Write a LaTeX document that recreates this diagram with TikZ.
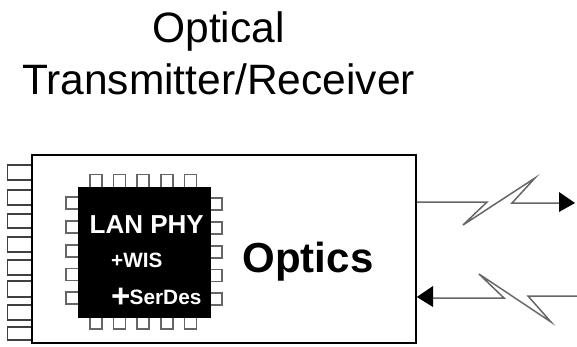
\documentclass[tikz,border=0pt]{standalone}
\usepackage{fontspec}
\setmainfont{Liberation Sans}
\usetikzlibrary{arrows.meta}
\tikzset{
  pin/.style={draw=black!60,line width=1.1pt,fill=white},
  edgepin/.style={draw=black!75,line width=1.4pt,fill=white},
  link/.style={draw=black!60,line width=1.5pt,line join=miter},
  tip/.style={fill=black,draw=none},
  title/.style={font=\fontsize{42.5}{43}\selectfont,text=black,inner sep=0pt,anchor=base},
  chiptext/.style={text=white,inner sep=0pt,anchor=base west}
}
\begin{document}
\begin{tikzpicture}[x=1pt,y=-1pt]
\useasboundingbox (0,0) rectangle (577,346);
\node[title] (t1) at (218.5,42.5) {Optical};
\node[title] (t2) at (218.5,94) {Transmitter/Receiver};
% edge connector pins
\foreach \a/\b in {165/180,190/205,214/228,237/252,260/275,281/297,305/320,327/340}
  \draw[edgepin] (7.5,\a) rectangle (32,\b);
% module
\node[draw=black,line width=1.6pt,fill=white,minimum width=384pt,minimum height=188pt,inner sep=0pt] (box) at (224,249) {};
% chip pins
\foreach \x in {90,113.5,137,161,184.5} {
  \draw[pin] (\x,174.5) rectangle ++(12,14);
  \draw[pin] (\x,317) rectangle ++(12,12);
}
\foreach \y in {197,221,245,268.5,292} {
  \draw[pin] (66,\y) rectangle ++(13,12);
  \draw[pin] (210,\y+1) rectangle ++(12,12);
}
\node[fill=black,draw=none,minimum width=133pt,minimum height=131pt,inner sep=0pt] (chip) at (144.5,252.5) {};
\node[chiptext,font=\fontsize{26}{27}\selectfont\bfseries] (lan) at (89.5,233) {LAN PHY};
\node[chiptext,font=\fontsize{20.7}{21}\selectfont\bfseries] (wis) at (111,267) {+WIS};
\node[chiptext,font=\fontsize{20.8}{21}\selectfont\bfseries] (ser) at (129.5,304) {SerDes};
\node[chiptext,font=\fontsize{33}{34}\selectfont\bfseries] (plus) at (111,307) {+};
\node[inner sep=0pt,anchor=base,font=\fontsize{42}{43}\selectfont\bfseries] (optics) at (308,272) {Optics};
% upper link
\coordinate (u0) at (box.east |- 0,202);
\coordinate (u1) at (487,202);
\coordinate (u2) at (463,225);
\coordinate (u3) at (535,178);
\coordinate (u4) at (512,203);
\coordinate (u5) at (560,203);
\coordinate (u6) at (575,203);
\draw[link] (u0) -- (u1) -- (u2) -- (u3) -- (u4) -- (u5);
\fill[tip] (u6) -- (559,192) -- (559,212) -- cycle;
% lower link
\coordinate (l0) at (box.east |- 0,297);
\coordinate (l1) at (433,298);
\coordinate (l2) at (504,298);
\coordinate (l3) at (479,274);
\coordinate (l4) at (551,322);
\coordinate (l5) at (528,296);
\coordinate (l6) at (577,296);
\draw[link] (l6) -- (l5) -- (l4) -- (l3) -- (l2) -- (l1);
\fill[tip] (l0) -- (433,286) -- (433,307) -- cycle;
\end{tikzpicture}
\end{document}
